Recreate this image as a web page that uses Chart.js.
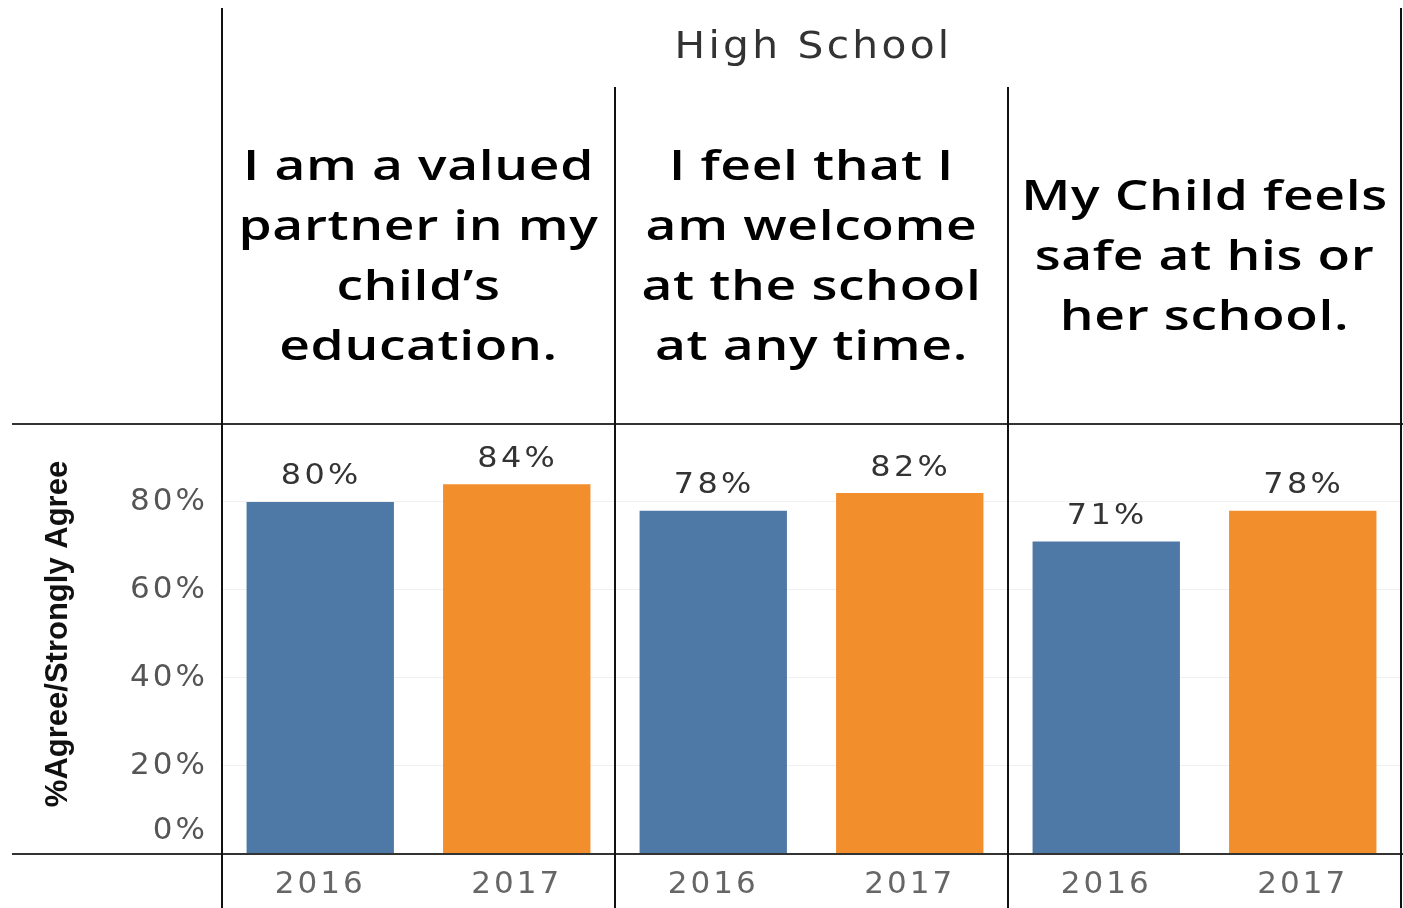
<!DOCTYPE html>
<html>
<head>
<meta charset="utf-8">
<script src="https://cdn.jsdelivr.net/npm/chart.js@4.4.0/dist/chart.umd.min.js"></script>
<style>
  html, body { margin: 0; padding: 0; background: #fff; }
  #wrap { width: 1403px; height: 908px; position: relative; }
</style>
</head>
<body>
<div id="wrap"><canvas id="myChart"></canvas></div>
<script>
// data
const groupTitle = 'High School';
const questions = [
    ['I am a valued', 'partner in my', 'child\u2019s', 'education.'],
    ['I feel that I', 'am welcome', 'at the school', 'at any time.'],
    ['My Child feels', 'safe at his or', 'her school.']
];
const years = ['2016', '2017'];
const values2016 = [80, 78, 71];
const values2017 = [84, 82, 78];
const yTicks = [0, 20, 40, 60, 80];
const yTitle = '%Agree/Strongly Agree';

const blue = '#4e79a7';
const orange = '#f28e2b';

// one category per bar: 2016, 2017 for every question
const labels = [];
const data16 = [];
const data17 = [];
questions.forEach((q, i) => {
    labels.push(years[0], years[1]);
    data16.push(values2016[i], null);
    data17.push(null, values2017[i]);
});

const tableauFont = "'DejaVu Sans', sans-serif";

// text stretched a bit wider, tableau fonts are wide
function wideText(ctx, text, x, y, sx) {
    ctx.save();
    ctx.translate(x, y);
    ctx.scale(sx, 1);
    ctx.fillText(text, 0, 0);
    ctx.restore();
}

const decorations = {
    id: 'decorations',
    beforeDraw(chart) {
        chart.ctx.letterSpacing = '3px';
    },
    afterDraw(chart) {
        const ctx = chart.ctx;
        const x = chart.scales.x;
        const y = chart.scales.y;
        const area = chart.chartArea;

        ctx.save();
        ctx.letterSpacing = '3px';
        ctx.textBaseline = 'middle';

        // value labels above bars
        ctx.fillStyle = '#333';
        ctx.font = '29px ' + tableauFont;
        ctx.textAlign = 'center';
        chart.data.datasets.forEach((ds, di) => {
            chart.getDatasetMeta(di).data.forEach((bar, i) => {
                if (ds.data[i] == null) return;
                wideText(ctx, ds.data[i] + '%', bar.x + 1, bar.y - 25, 1.1);
            });
        });

        // 0% tick label sits above the baseline
        ctx.fillStyle = '#555';
        ctx.textAlign = 'right';
        ctx.font = '31px ' + tableauFont;
        ctx.fillText('0%', area.left - 14, y.getPixelForValue(0) - 23);

        // y title
        ctx.save();
        ctx.letterSpacing = '0px';
        ctx.translate(58, (area.top + area.bottom) / 2 - 5);
        ctx.rotate(-Math.PI / 2);
        ctx.fillStyle = '#111';
        ctx.font = "bold 31px 'Liberation Sans Narrow', sans-serif";
        ctx.textAlign = 'center';
        ctx.fillText(yTitle, 0, 0);
        ctx.restore();

        // panel boundaries from the category scale
        const bounds = [area.left];
        for (let i = 1; i < questions.length; i++) {
            bounds.push((x.getPixelForTick(2 * i - 1) + x.getPixelForTick(2 * i)) / 2);
        }
        bounds.push(area.right);

        // header text
        ctx.textAlign = 'center';
        ctx.fillStyle = '#333';
        ctx.font = '37px ' + tableauFont;
        ctx.letterSpacing = '3px';
        wideText(ctx, groupTitle, (area.left + area.right) / 2 + 2, 48, 1.1);

        ctx.fillStyle = '#000';
        ctx.font = "600 42px 'Open Sans', sans-serif";
        ctx.letterSpacing = '0.5px';
        questions.forEach((lines, i) => {
            const cx = (bounds[i] + bounds[i + 1]) / 2;
            const lh = 60;
            const top = 258 - (lines.length - 1) * lh / 2;
            lines.forEach((t, j) => wideText(ctx, t, cx, top + j * lh, 1.27));
        });

        // frame lines
        ctx.strokeStyle = '#333';
        ctx.lineWidth = 2;
        ctx.beginPath();
        ctx.moveTo(12, area.top); ctx.lineTo(1403, area.top);
        ctx.moveTo(12, area.bottom); ctx.lineTo(1403, area.bottom);
        ctx.stroke();

        ctx.strokeStyle = '#111';
        ctx.beginPath();
        ctx.moveTo(bounds[0], 8); ctx.lineTo(bounds[0], 908);
        ctx.moveTo(bounds[bounds.length - 1], 8); ctx.lineTo(bounds[bounds.length - 1], 908);
        for (let i = 1; i < bounds.length - 1; i++) {
            ctx.moveTo(bounds[i], 87); ctx.lineTo(bounds[i], 908);
        }
        ctx.stroke();
        ctx.restore();
    }
};

const ctx = document.getElementById('myChart').getContext('2d');
const myChart = new Chart(ctx, {
    type: 'bar',
    data: {
        labels: labels,
        datasets: [
            { label: years[0], data: data16, backgroundColor: blue },
            { label: years[1], data: data17, backgroundColor: orange }
        ]
    },
    options: {
        responsive: true,
        maintainAspectRatio: false,
        animation: false,
        layout: { padding: { top: 424, right: 2, left: 0, bottom: 0 } },
        datasets: {
            bar: { grouped: false, barPercentage: 0.75, categoryPercentage: 1, skipNull: true }
        },
        plugins: {
            legend: { display: false },
            tooltip: { enabled: false }
        },
        scales: {
            x: {
                grid: { display: false },
                border: { display: false },
                ticks: {
                    color: '#666',
                    font: { family: tableauFont, size: 31 },
                    padding: 4,
                    maxRotation: 0
                },
                afterFit(scale) { scale.height = 54; }
            },
            y: {
                min: 0,
                max: 97.7,
                afterBuildTicks(scale) {
                    scale.ticks = yTicks.map(v => ({ value: v }));
                },
                grid: {
                    color: c => c.tick && c.tick.value === 0 ? 'rgba(0,0,0,0)' : '#f0f0f0',
                    drawTicks: false
                },
                border: { display: false },
                ticks: {
                    color: c => c.tick && c.tick.value === 0 ? 'rgba(0,0,0,0)' : '#555',
                    font: { family: tableauFont, size: 31 },
                    padding: 14,
                    callback: v => v + '%'
                },
                afterFit(scale) { scale.width = 222; }
            }
        }
    },
    plugins: [decorations]
});
</script>
</body>
</html>
